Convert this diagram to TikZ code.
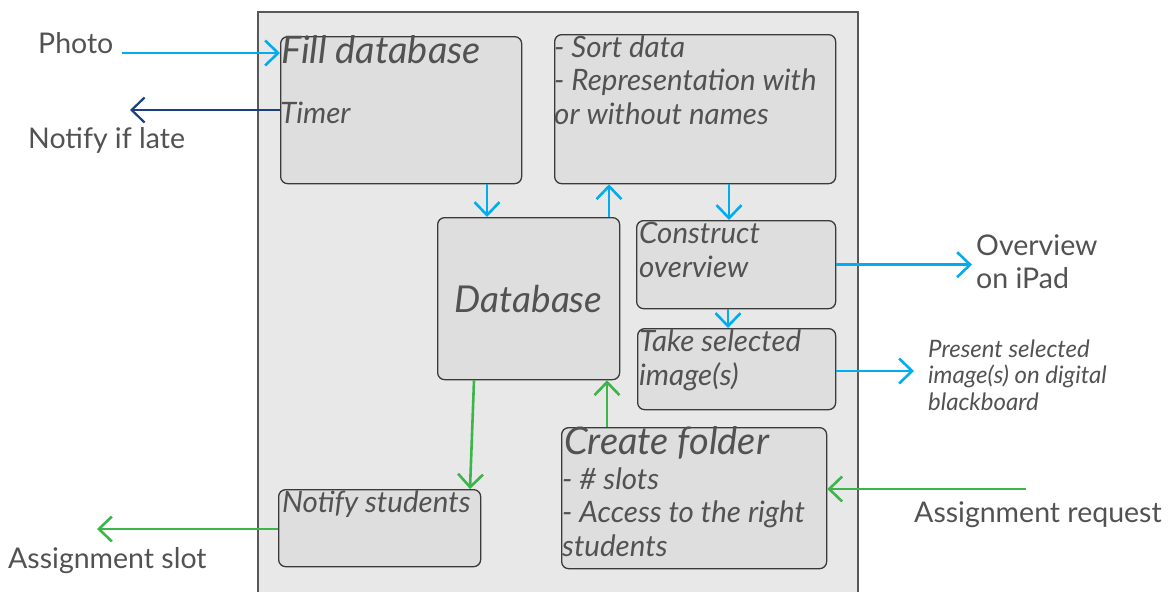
\documentclass[tikz,border=0pt]{standalone}
\usepackage{fontspec}
\setmainfont{Lato}
\usetikzlibrary{arrows.meta}
\definecolor{panelgray}{HTML}{E8E8E8}
\definecolor{boxgray}{HTML}{DEDEDE}
\definecolor{edgegray}{HTML}{3A3A3A}
\definecolor{textgray}{HTML}{525252}
\definecolor{flowcyan}{HTML}{00AEEF}
\definecolor{flownavy}{HTML}{1B4080}
\definecolor{flowgreen}{HTML}{3CB54A}
\begin{document}
\begin{tikzpicture}[x=1pt, y=-1pt,
  box/.style={draw=edgegray, fill=boxgray, line width=1.3pt, rounded corners=7pt,
    anchor=north west, inner sep=0pt, text=textgray},
  txt/.style={text=textgray, inner sep=0pt, align=left},
  boxtxt/.style={txt, font=\fontsize{29.5}{33.5}\selectfont\itshape},
  bigtxt/.style={txt, font=\fontsize{38}{40}\selectfont\itshape},
  outtxt/.style={txt, font=\fontsize{28.5}{33}\selectfont},
  smalltxt/.style={txt, font=\fontsize{24}{26.5}\selectfont\itshape},
  flowtip/.style={-{Straight Barb[length=13pt, width=25pt]}},
  cyanflow/.style={draw=flowcyan, line width=2.6pt, flowtip},
  navyflow/.style={draw=flownavy, line width=2.2pt, flowtip},
  greenflow/.style={draw=flowgreen, line width=2.6pt, flowtip}]
  \useasboundingbox (0,0) rectangle (1176,592);
  \draw[draw=edgegray!85, fill=panelgray, line width=1.6pt] (258,12) rectangle (858,620);

  \node[box, minimum width=241pt, minimum height=147pt] (fill) at (280,36) {};
  \node[box, minimum width=281pt, minimum height=149pt] (sort) at (554,34) {};
  \node[box, minimum width=182pt, minimum height=162pt,
    font=\fontsize{37}{40}\selectfont\itshape] (db) at (437,217) {Database};
  \node[box, minimum width=199pt, minimum height=88pt] (construct) at (636,220) {};
  \node[box, minimum width=198pt, minimum height=81pt] (take) at (637,328) {};
  \node[box, minimum width=265pt, minimum height=141pt] (create) at (561,427) {};
  \node[box, minimum width=202pt, minimum height=77pt] (notify) at (278,489) {};

  % multi-line texts: base = last line
  \node[bigtxt, anchor=base west] (filltitle) at (281,63) {Fill database};
  \node[boxtxt, anchor=base west] (timer) at (280,123) {Timer};
  \node[boxtxt, anchor=base west] (sorttxt) at (554,124) {- Sort data\\- Representation with\\or without names};
  \node[boxtxt, anchor=base west] (constructtxt) at (639,277) {Construct\\overview};
  \node[boxtxt, anchor=base west] (taketxt) at (639,385) {Take selected\\image(s)};
  \node[bigtxt, anchor=base west] (createtitle) at (564,454) {Create folder};
  \node[boxtxt, anchor=base west] (createtxt) at (562,556) {- \# slots\\- Access to the right\\students};
  \node[boxtxt, anchor=base west] (notifytxt) at (282,512) {Notify students};

  \node[outtxt, anchor=base west] (photo) at (38,53) {Photo};
  \node[outtxt, anchor=base west] (late) at (28,148) {Notify if late};
  \node[outtxt, anchor=base west] (ipad) at (976,288) {Overview\\on iPad};
  \node[smalltxt, anchor=base west] (present) at (928,410) {Present selected\\image(s) on digital\\blackboard};
  \node[outtxt, anchor=base west] (request) at (914,522) {Assignment request};
  \node[outtxt, anchor=base west] (slot) at (8,568) {Assignment slot};

  \coordinate (lateend) at (130,110);
  \coordinate (reqstart) at (1026,489);
  \coordinate (slotend) at (97,529);

  \draw[cyanflow] ([xshift=8pt]photo.base east) -- (fill.west |- photo.base);
  \draw[navyflow] (fill.west |- lateend) -- (lateend);
  \draw[cyanflow] (fill.south -| 487,0) -- (db.north -| 487,0);
  \draw[cyanflow] (db.north -| 609,0) -- (sort.south -| 609,0);
  \draw[cyanflow] (sort.south -| 729,0) -- (construct.north -| 729,0);
  \draw[cyanflow] (construct.south -| 728,0) -- (take.north -| 728,0);
  \draw[cyanflow] (construct.east) -- ([xshift=-4pt]ipad.west |- construct.east);
  \draw[cyanflow] (take.east |- 0,371) -- ([xshift=-14pt]present.west |- 0,371);
  \draw[greenflow] (db.south -| 474,0) -- (notify.north -| 470,0);
  \draw[greenflow] (create.north -| 607,0) -- (db.south -| 607,0);
  \draw[greenflow] (reqstart) -- (create.east |- reqstart);
  \draw[greenflow] (notify.west |- slotend) -- (slotend);
\end{tikzpicture}
\end{document}
